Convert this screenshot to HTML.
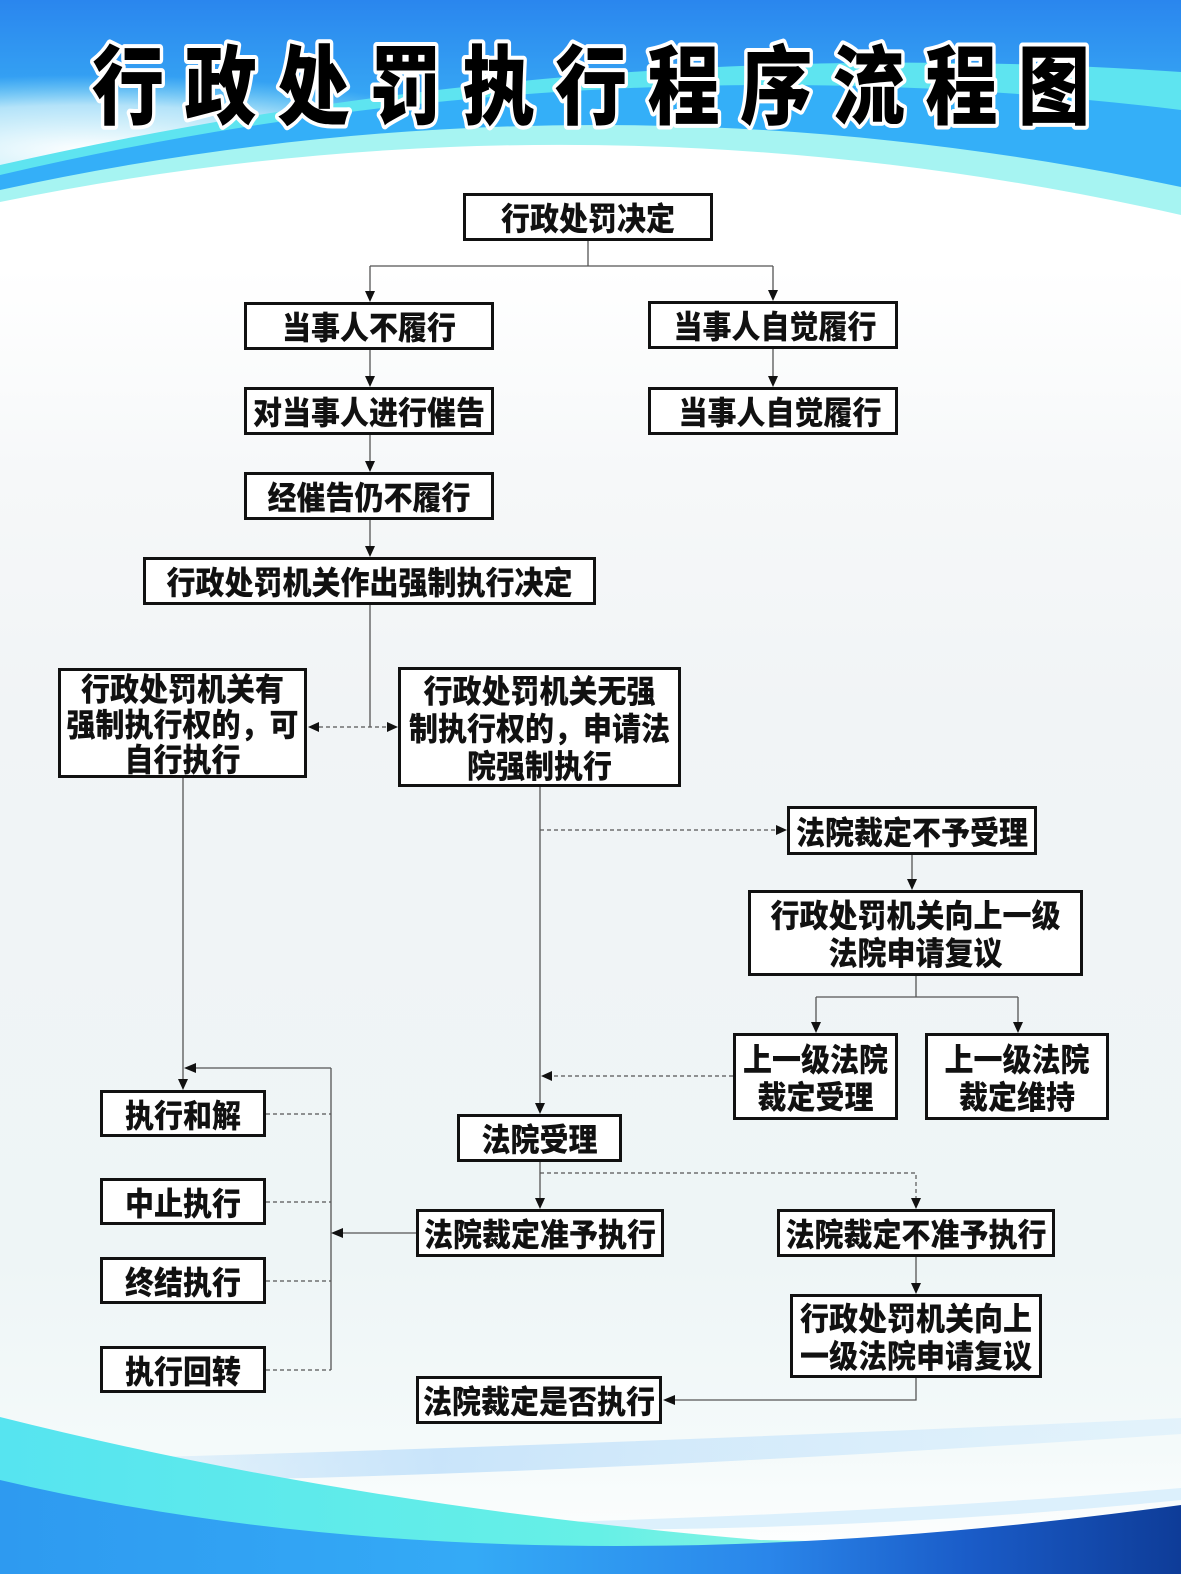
<!DOCTYPE html>
<html lang="zh">
<head>
<meta charset="utf-8">
<style>
  html,body{margin:0;padding:0;}
  body{width:1181px;height:1574px;position:relative;overflow:hidden;background:#f3f6f8;
       font-family:"Liberation Sans","Noto Sans CJK SC",sans-serif;}
  svg.bg,svg.fg{position:absolute;left:0;top:0;}
  .b{position:absolute;box-sizing:border-box;border:3px solid #111;background:#fff;
     display:flex;align-items:center;justify-content:center;text-align:center;
     font-family:"Liberation Sans","Noto Sans CJK SC",sans-serif;font-weight:900;
     font-size:29px;color:#111;white-space:nowrap;}
  .b > div{transform:translateY(3px) scaleY(1.1);line-height:34px;}
</style>
</head>
<body>
<svg class="bg" width="1181" height="1574" viewBox="0 0 1181 1574">
  <defs>
    <linearGradient id="mainbg" x1="0" y1="0" x2="0" y2="1">
      <stop offset="0" stop-color="#ffffff"/>
      <stop offset="0.17" stop-color="#ffffff"/>
      <stop offset="0.3" stop-color="#f6f8f9"/>
      <stop offset="0.45" stop-color="#f1f4f6"/>
      <stop offset="0.8" stop-color="#eef5f6"/>
      <stop offset="0.92" stop-color="#f4fafa"/>
      <stop offset="1" stop-color="#ffffff"/>
    </linearGradient>
    <linearGradient id="topbg" x1="0" y1="0" x2="0" y2="1">
      <stop offset="0" stop-color="#2a86ee"/>
      <stop offset="0.4" stop-color="#36a6f4"/>
      <stop offset="0.75" stop-color="#48c4f2"/>
      <stop offset="1" stop-color="#5fd8f0"/>
    </linearGradient>
    <radialGradient id="leftfade" cx="0.5" cy="0.5" r="0.5">
      <stop offset="0" stop-color="#ffffff" stop-opacity="1"/>
      <stop offset="0.6" stop-color="#e8fbfb" stop-opacity="0.7"/>
      <stop offset="1" stop-color="#aef0f4" stop-opacity="0"/>
    </radialGradient>
    <linearGradient id="cyanwave" x1="0" y1="0" x2="1" y2="0">
      <stop offset="0" stop-color="#56e4f0"/>
      <stop offset="0.6" stop-color="#66f0e6"/>
      <stop offset="0.85" stop-color="#8ef4e2"/>
      <stop offset="1" stop-color="#e0f8f4"/>
    </linearGradient>
    <linearGradient id="bluewave" x1="0" y1="0" x2="1" y2="0">
      <stop offset="0" stop-color="#2e9af0"/>
      <stop offset="0.4" stop-color="#34aaf6"/>
      <stop offset="0.65" stop-color="#2a86ea"/>
      <stop offset="0.82" stop-color="#1a5cc8"/>
      <stop offset="1" stop-color="#0e3c98"/>
    </linearGradient>
    <linearGradient id="streak" x1="0" y1="0" x2="1" y2="0">
      <stop offset="0" stop-color="#b8dcf8" stop-opacity="0.2"/>
      <stop offset="0.3" stop-color="#c4e2fa" stop-opacity="0.9"/>
      <stop offset="1" stop-color="#d8eefc" stop-opacity="0.6"/>
    </linearGradient>
  </defs>
  <rect x="0" y="0" width="1181" height="1574" fill="url(#mainbg)"/>
  <!-- header -->
  <rect x="0" y="0" width="1181" height="240" fill="url(#topbg)"/>
  <ellipse cx="90" cy="150" rx="420" ry="75" fill="url(#leftfade)"/>
  <path d="M0,165 Q590,31.5 1181,72 L1181,240 L0,240 Z" fill="#5ee4f0"/>
  <path d="M0,175 Q590,37.5 1181,110 L1181,240 L0,240 Z" fill="#34aff8"/>
  <path d="M0,190 Q590,61.5 1181,187 L1181,240 L0,240 Z" fill="#a6f4f2"/>
  <path d="M0,202 Q590,81.5 1181,215 L1181,241 L0,241 Z" fill="#ffffff"/>
  <!-- bottom waves -->
  <path d="M120,1458 Q600,1445 1181,1418 L1181,1434 Q620,1472 220,1480 Z" fill="url(#streak)"/>
  <path d="M560,1522 Q900,1512 1181,1488 L1181,1500 Q900,1528 600,1530 Z" fill="#d4ecfb" opacity="0.8"/>
  <path d="M0,1417 Q350,1505 760,1540 L1000,1545 L1000,1574 L0,1574 Z" fill="url(#cyanwave)"/>
  <path d="M0,1480 Q500,1598 1181,1505 L1181,1574 L0,1574 Z" fill="url(#bluewave)"/>
  <!-- title -->
  <g font-family="'Liberation Sans','Noto Sans CJK SC',sans-serif" font-weight="900" font-size="86" fill="#000" stroke="#ffffff" stroke-width="8" stroke-linejoin="round" paint-order="stroke" text-anchor="middle">
    <text transform="translate(128,117) scale(0.84,1)">行</text>
    <text transform="translate(220.6,117) scale(0.84,1)">政</text>
    <text transform="translate(313.2,117) scale(0.84,1)">处</text>
    <text transform="translate(405.8,117) scale(0.84,1)">罚</text>
    <text transform="translate(498.4,117) scale(0.84,1)">执</text>
    <text transform="translate(591,117) scale(0.84,1)">行</text>
    <text transform="translate(683.6,117) scale(0.84,1)">程</text>
    <text transform="translate(776.2,117) scale(0.84,1)">序</text>
    <text transform="translate(868.8,117) scale(0.84,1)">流</text>
    <text transform="translate(961.4,117) scale(0.84,1)">程</text>
    <text transform="translate(1054,117) scale(0.84,1)">图</text>
  </g>
</svg>

<!-- connectors -->
<svg class="fg" width="1181" height="1574" viewBox="0 0 1181 1574">
  <g stroke="#555" stroke-width="1.3" fill="none">
    <path d="M588,241 V266 M370,266 H773 M370,266 V292 M773,266 V291"/>
    <path d="M370,350 V377 M370,435 V462 M370,520 V547 M773,349 V377"/>
    <path d="M370,605 V727"/>
    <path d="M183,778 V1080"/>
    <path d="M331,1068 V1370 M331,1068 H195"/>
    <path d="M416,1233 H342"/>
    <path d="M540,787 V1104"/>
    <path d="M540,1162 V1199"/>
    <path d="M912,855 V880"/>
    <path d="M916,976 V997 M816,997 H1018 M816,997 V1023 M1018,997 V1023"/>
    <path d="M916,1257 V1284"/>
    <path d="M916,1378 V1400 H674"/>
  </g>
  <g stroke="#555" stroke-width="1.2" fill="none" stroke-dasharray="4,3">
    <path d="M319,727 H387"/>
    <path d="M266,1114 H331 M266,1202 H331 M266,1281 H331 M266,1370 H331"/>
    <path d="M540,830 H776"/>
    <path d="M733,1076 H551"/>
    <path d="M540,1173 H916 V1199"/>
  </g>
  <g fill="#111">
    <polygon points="365,291 375,291 370,302"/>
    <polygon points="768,290 778,290 773,301"/>
    <polygon points="365,376 375,376 370,387"/>
    <polygon points="768,376 778,376 773,387"/>
    <polygon points="365,461 375,461 370,472"/>
    <polygon points="365,546 375,546 370,557"/>
    <polygon points="178,1079 188,1079 183,1090"/>
    <polygon points="535,1103 545,1103 540,1114"/>
    <polygon points="535,1198 545,1198 540,1209"/>
    <polygon points="907,879 917,879 912,890"/>
    <polygon points="811,1022 821,1022 816,1033"/>
    <polygon points="1013,1022 1023,1022 1018,1033"/>
    <polygon points="911,1198 921,1198 916,1209"/>
    <polygon points="911,1283 921,1283 916,1294"/>
    <polygon points="308,727 319,722 319,732"/>
    <polygon points="184,1068 196,1063 196,1073"/>
    <polygon points="331,1233 343,1228 343,1238"/>
    <polygon points="541,1076 552,1071 552,1081"/>
    <polygon points="663,1400 675,1395 675,1405"/>
    <polygon points="398,727 387,722 387,732"/>
    <polygon points="787,830 776,825 776,835"/>
  </g>
</svg>

<!-- boxes -->
<div class="b" style="left:463px;top:193px;width:250px;height:48px;"><div>行政处罚决定</div></div>
<div class="b" style="left:244px;top:302px;width:250px;height:48px;"><div>当事人不履行</div></div>
<div class="b" style="left:648px;top:301px;width:250px;height:48px;padding-left:4px;"><div>当事人自觉履行</div></div>
<div class="b" style="left:244px;top:387px;width:250px;height:48px;"><div>对当事人进行催告</div></div>
<div class="b" style="left:648px;top:387px;width:250px;height:48px;padding-left:14px;"><div>当事人自觉履行</div></div>
<div class="b" style="left:244px;top:472px;width:250px;height:48px;"><div>经催告仍不履行</div></div>
<div class="b" style="left:143px;top:557px;width:453px;height:48px;"><div>行政处罚机关作出强制执行决定</div></div>

<div class="b" style="left:58px;top:668px;width:249px;height:110px;"><div style="line-height:32px;">行政处罚机关有<br>强制执行权的，可<br>自行执行</div></div>
<div class="b" style="left:398px;top:667px;width:283px;height:120px;"><div>行政处罚机关无强<br>制执行权的，申请法<br>院强制执行</div></div>

<div class="b" style="left:787px;top:806px;width:250px;height:49px;"><div>法院裁定不予受理</div></div>
<div class="b" style="left:748px;top:890px;width:335px;height:86px;"><div>行政处罚机关向上一级<br>法院申请复议</div></div>
<div class="b" style="left:733px;top:1033px;width:165px;height:87px;"><div>上一级法院<br>裁定受理</div></div>
<div class="b" style="left:925px;top:1033px;width:184px;height:87px;"><div>上一级法院<br>裁定维持</div></div>

<div class="b" style="left:457px;top:1114px;width:165px;height:48px;"><div>法院受理</div></div>

<div class="b" style="left:100px;top:1090px;width:166px;height:47px;"><div>执行和解</div></div>
<div class="b" style="left:100px;top:1178px;width:166px;height:47px;"><div>中止执行</div></div>
<div class="b" style="left:100px;top:1257px;width:166px;height:47px;"><div>终结执行</div></div>
<div class="b" style="left:100px;top:1346px;width:166px;height:47px;"><div>执行回转</div></div>

<div class="b" style="left:416px;top:1209px;width:248px;height:48px;"><div>法院裁定准予执行</div></div>
<div class="b" style="left:777px;top:1209px;width:278px;height:48px;"><div>法院裁定不准予执行</div></div>
<div class="b" style="left:790px;top:1294px;width:252px;height:84px;"><div>行政处罚机关向上<br>一级法院申请复议</div></div>
<div class="b" style="left:416px;top:1376px;width:246px;height:48px;"><div>法院裁定是否执行</div></div>
</body>
</html>
